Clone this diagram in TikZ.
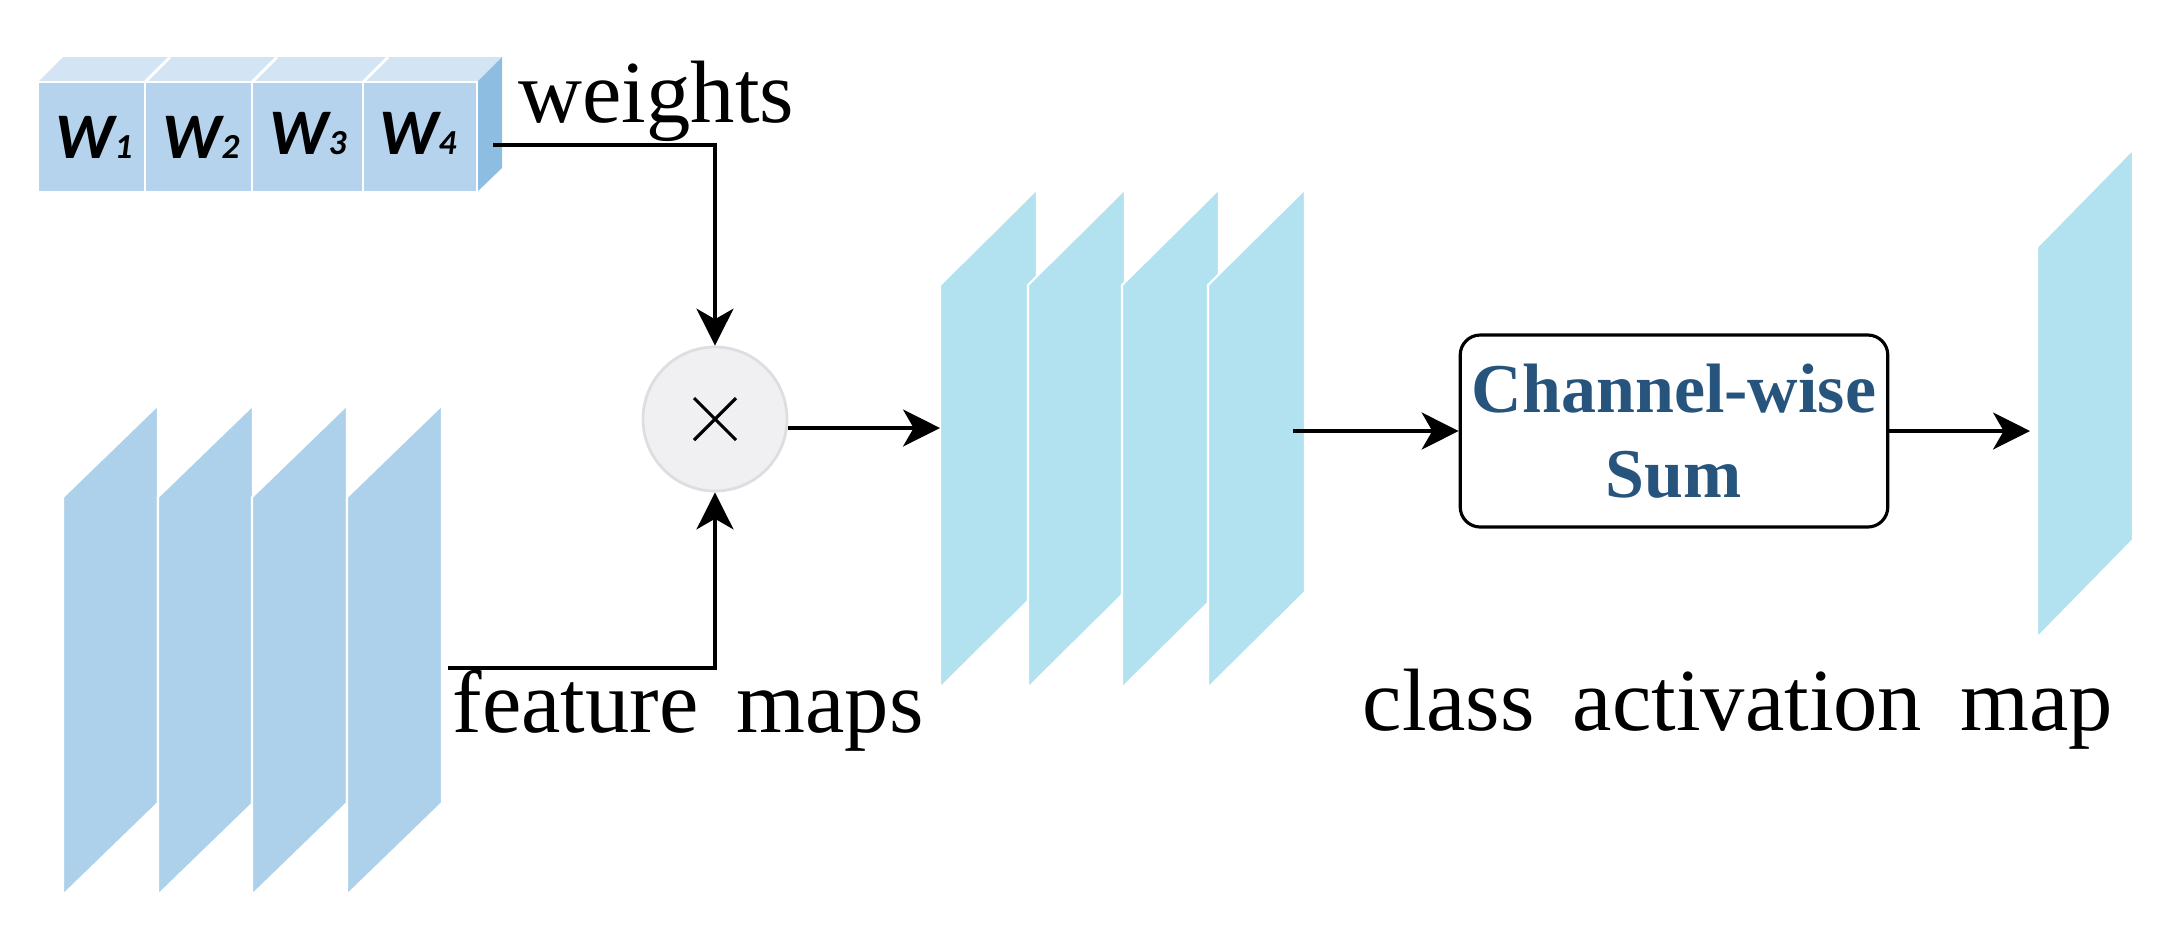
\documentclass[tikz,border=0pt]{standalone}
\usepackage{fontspec}
\setmainfont{Liberation Serif}
\newfontfamily\wfont{Carlito}
\usepackage{tikz}
\usetikzlibrary{arrows.meta}
\definecolor{cellfront}{RGB}{181,211,236}
\definecolor{celltop}{RGB}{211,229,244}
\definecolor{cellside}{RGB}{142,189,226}
\definecolor{fmapcolor}{RGB}{173,209,234}
\definecolor{camcolor}{RGB}{178,226,240}
\definecolor{sumtext}{RGB}{38,84,124}
\definecolor{multfill}{RGB}{240,240,242}
\definecolor{multline}{RGB}{222,222,226}

\newcommand{\capfont}{\fontsize{25.2}{30}\selectfont\spaceskip=0.43em plus 0.1em\relax}
\newcommand{\wsub}[1]{W{\fontsize{10}{11}\selectfont #1}}

\tikzset{
  fmap/.style={fill=fmapcolor, draw=white, line width=0.6pt},
  camplane/.style={fill=camcolor, draw=white, line width=0.6pt},
  cell/.style={rectangle, fill=cellfront, draw=white, line width=0.8pt, minimum height=1.1cm, inner sep=0pt},
  wlabel/.style={font=\wfont\bfseries\itshape\fontsize{18.5}{22}\selectfont},
  caption/.style={anchor=base west, inner sep=0pt, font=\capfont},
  arr/.style={->, line width=1.1pt},
}

\begin{document}
\begin{tikzpicture}[>={Stealth[length=10.5pt, width=10.5pt, inset=3pt]}]

\useasboundingbox (0,0) rectangle (21.78,-9.34);

% Weight vector (3D bar)
\fill[celltop] (0.38,-0.82) -- (4.77,-0.82) -- (5.02,-0.57) -- (0.63,-0.57) -- cycle;
\fill[cellside] (4.77,-0.82) -- (5.02,-0.57) -- (5.02,-1.68) -- (4.77,-1.92) -- cycle;
\draw[white, line width=0.8pt] (1.45,-0.82) -- ++(0.25,0.25) (2.52,-0.82) -- ++(0.25,0.25) (3.63,-0.82) -- ++(0.25,0.25);
\node[cell, minimum width=1.07cm] (w1) at (0.915,-1.37) {};
\node[cell, minimum width=1.07cm] (w2) at (1.985,-1.37) {};
\node[cell, minimum width=1.11cm] (w3) at (3.075,-1.37) {};
\node[cell, minimum width=1.14cm] (w4) at (4.20,-1.37) {};
\node[wlabel] at (0.94,-1.37) {\wsub{1}};
\node[wlabel] at (2.01,-1.37) {\wsub{2}};
\node[wlabel] at (3.08,-1.34) {\wsub{3}};
\node[wlabel] at (4.18,-1.33) {\wsub{4}};
\node[caption] (wtext) at (5.18,-1.22) {weights};

% Feature maps
\draw[fmap] (0.63,-4.97) -- ++(0.95,0.92) -- ++(0,-3.98) -- ++(-0.95,-0.92) -- cycle;
\draw[fmap] (1.58,-4.97) -- ++(0.95,0.92) -- ++(0,-3.98) -- ++(-0.95,-0.92) -- cycle;
\draw[fmap] (2.52,-4.97) -- ++(0.95,0.92) -- ++(0,-3.98) -- ++(-0.95,-0.92) -- cycle;
\draw[fmap] (3.47,-4.97) -- ++(0.95,0.92) -- ++(0,-3.98) -- ++(-0.95,-0.92) -- cycle;
\node[caption] (ftext) at (4.52,-7.32) {feature maps};

% Multiplication
\node[circle, fill=multfill, draw=multline, line width=0.8pt, minimum size=1.44cm, inner sep=0pt,
  path picture={\draw[black, line width=0.9pt] (path picture bounding box.center) +(-0.21,-0.21) -- +(0.21,0.21) +(-0.21,0.21) -- +(0.21,-0.21);}] (mult) at (7.15,-4.19) {};

% Weighted feature maps
\draw[camplane] (9.40,-2.85) -- ++(0.97,0.96) -- ++(0,-4.03) -- ++(-0.97,-0.96) -- cycle;
\draw[camplane] (10.28,-2.85) -- ++(0.97,0.96) -- ++(0,-4.03) -- ++(-0.97,-0.96) -- cycle;
\draw[camplane] (11.22,-2.85) -- ++(0.97,0.96) -- ++(0,-4.03) -- ++(-0.97,-0.96) -- cycle;
\draw[camplane] (12.08,-2.85) -- ++(0.97,0.96) -- ++(0,-4.03) -- ++(-0.97,-0.96) -- cycle;

% Channel-wise sum
\node[draw, rounded corners=0.2cm, line width=0.9pt, minimum width=4.24cm, minimum height=1.92cm, align=center, text=sumtext, font=\bfseries\fontsize{19.9}{24.2}\selectfont] (sum) at (16.74,-4.31) {Channel-wise\\Sum};

% Class activation map
\draw[camplane] (20.37,-2.47) -- ++(0.96,0.98) -- ++(0,-3.91) -- ++(-0.96,-0.98) -- cycle;
\node[caption] (ctext) at (13.62,-7.30) {class activation map};

% Connectors
\coordinate (wout) at (4.93,-1.45);
\coordinate (fout) at (4.48,-6.68);
\coordinate (stackin) at (9.40,-4.28);
\coordinate (stackout) at (12.93,-4.31);
\coordinate (camin) at (20.30,-4.31);
\draw[arr] (wout) -| (mult.north);
\draw[arr] (fout) -| (mult.south);
\draw[arr] (mult.east |- stackin) -- (stackin);
\draw[arr] (stackout) -- (sum.west);
\draw[arr] (sum.east) -- (camin);

\end{tikzpicture}
\end{document}
